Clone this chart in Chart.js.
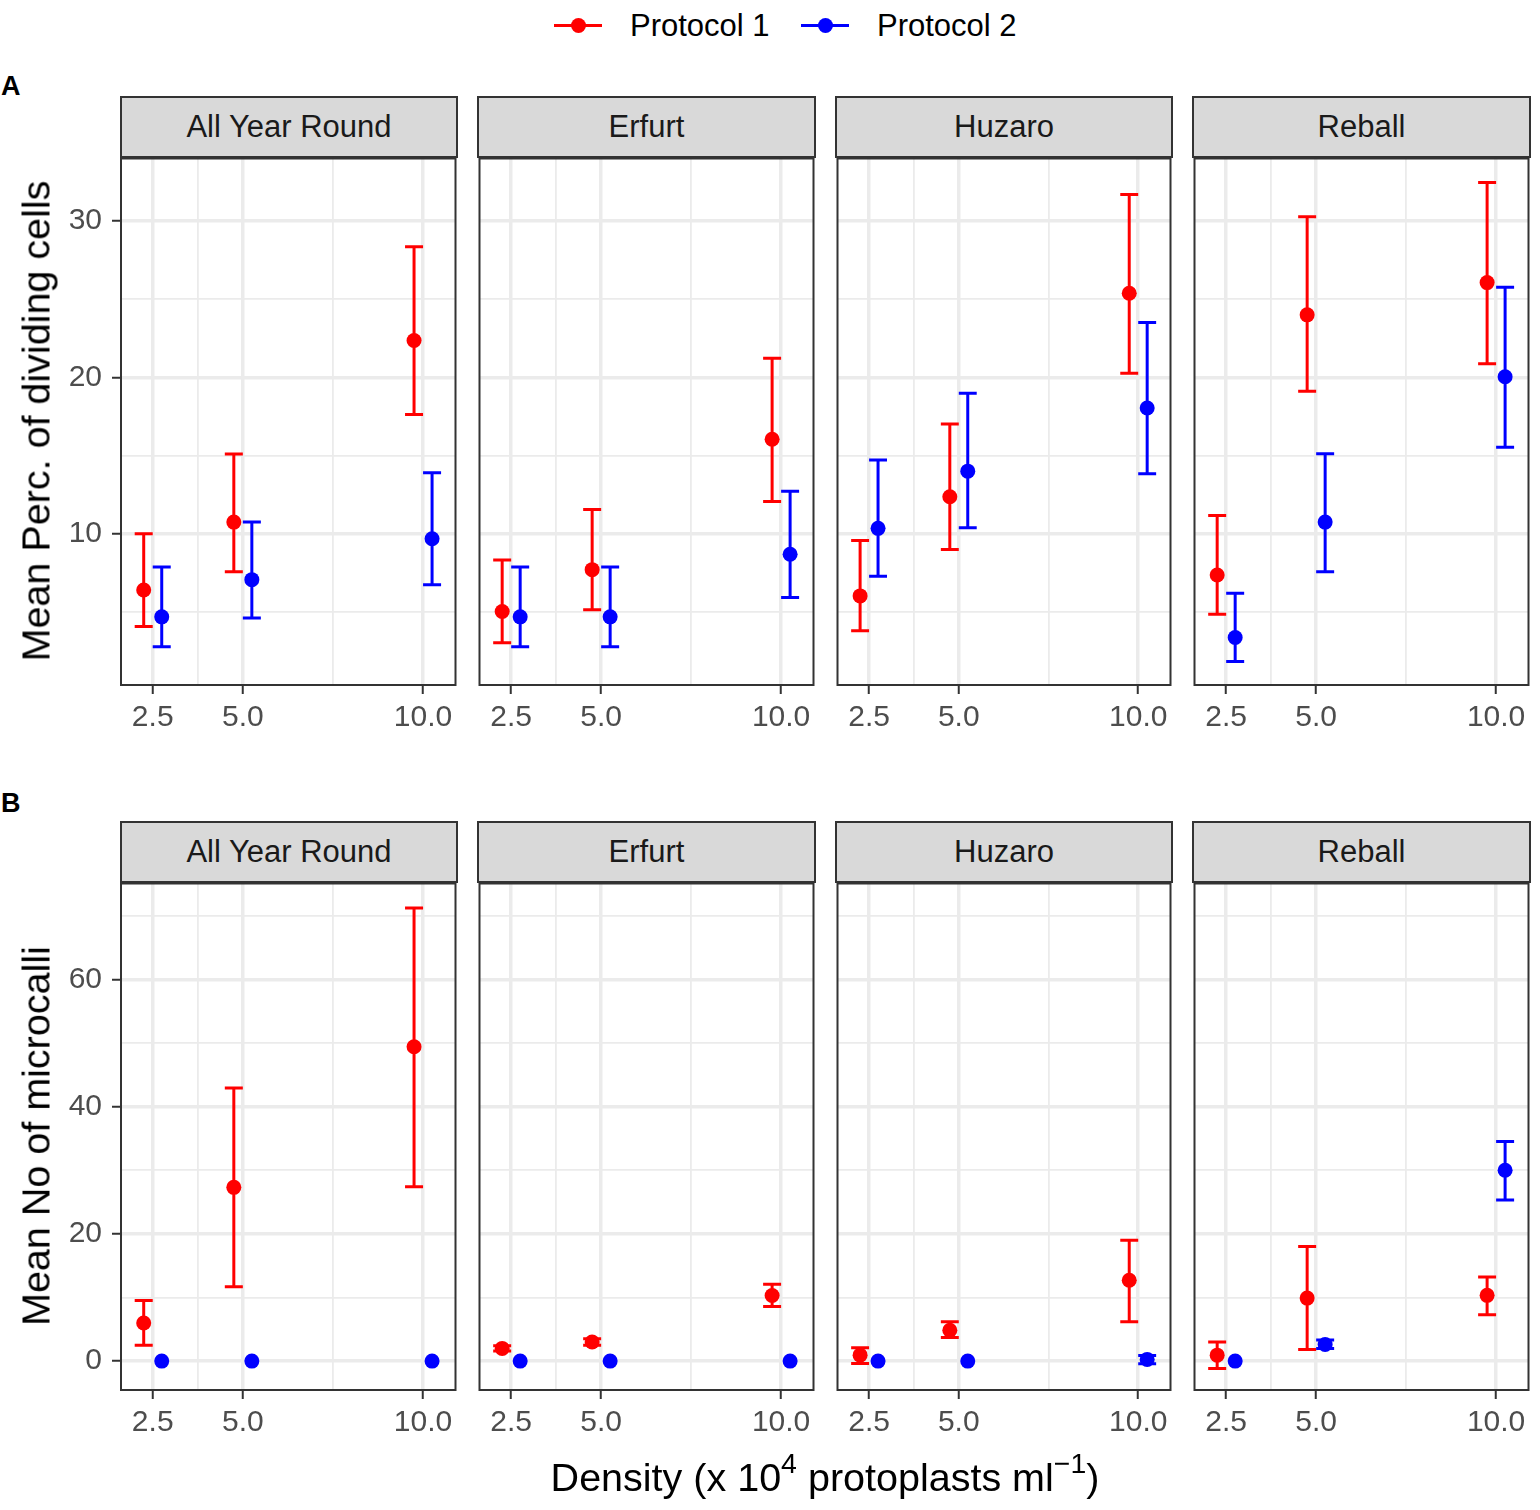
<!DOCTYPE html>
<html>
<head>
<meta charset="utf-8">
<script src="https://cdn.jsdelivr.net/npm/chart.js@4.4.1/dist/chart.umd.min.js"></script>
<style>
  body { margin: 0; background: #fff; width: 1540px; height: 1510px; position: relative; overflow: hidden;
         font-family: "Liberation Sans", Arial, sans-serif; }
  canvas { position: absolute; }
  .strip { position: absolute; box-sizing: border-box; border: 2px solid #333; background: #D9D9D9;
           color: #1A1A1A; font-size: 31px; display: flex; align-items: center; justify-content: center; }
  .tag { position: absolute; font-weight: bold; font-size: 27px; color: #000; }
  .ytitle { position: absolute; font-size: 39.5px; color: #000; white-space: nowrap;
            transform: translate(-50%, -50%) rotate(-90deg); }
  .xtitle { position: absolute; font-size: 39.5px; color: #000; white-space: nowrap; transform: translate(-50%, -50%); }
  .xtitle sup { font-size: 0.72em; vertical-align: 0; position: relative; top: -0.65em; line-height: 0; }
  .key { position: absolute; height: 3px; width: 48px; }
  .dot { position: absolute; width: 15px; height: 15px; border-radius: 50%; }
  .ltext { position: absolute; font-size: 31px; color: #000; transform: translateY(-50%); }
</style>
</head>
<body>
<div id="wrap"></div>
<script>
const cultivars = ['All Year Round', 'Erfurt', 'Huzaro', 'Reball']
const densities = [2.5, 5.0, 10.0]
const xMajor = [2.5, 5.0, 10.0]
const xMinor = [3.75, 7.5]
const yMajorA = [10, 20, 30]
const yMinorA = [5, 15, 25]
const yMajorB = [0, 20, 40, 60]
const yMinorB = [10, 30, 50, 70]

// A: mean percentage of dividing cells (per cultivar, per density)
const divP1Mean = [[6.4, 10.74, 22.36], [5.02, 7.7, 16.04], [6.02, 12.36, 25.38], [7.36, 24.0, 26.06]]
const divP1Low  = [[4.06, 7.57, 17.62], [3.02, 5.13, 12.06], [3.79, 8.98, 20.26], [4.85, 19.11, 20.87]]
const divP1High = [[10.0, 15.1, 28.36], [8.32, 11.55, 21.23], [9.57, 17.02, 31.7], [11.17, 30.28, 32.47]]
const divP2Mean = [[4.68, 7.06, 9.68], [4.68, 4.68, 8.68], [10.34, 14.0, 18.04], [3.36, 10.74, 20.04]]
const divP2Low  = [[2.77, 4.6, 6.74], [2.77, 2.77, 5.91], [7.28, 10.38, 13.83], [1.83, 7.57, 15.53]]
const divP2High = [[7.87, 10.74, 13.9], [7.87, 7.87, 12.72], [14.72, 18.98, 23.51], [6.19, 15.11, 25.77]]

// B: mean number of microcalli
const calP1Mean = [[5.98, 27.3, 49.4], [2.0, 3.0, 10.3], [0.94, 4.86, 12.7], [0.94, 9.9, 10.33]]
const calP1Low  = [[2.5, 11.7, 27.4], [1.6, 2.5, 8.6], [-0.37, 3.7, 6.2], [-1.15, 1.83, 7.3]]
const calP1High = [[9.52, 42.9, 71.2], [2.4, 3.5, 12.06], [2.1, 6.2, 19.0], [3.0, 18.0, 13.2]]
const calP2Mean = [[0, 0, 0], [0, 0, 0], [0, 0, 0.27], [0, 2.6, 30.0]]
const calP2Low  = [[0, 0, 0], [0, 0, 0], [0, 0, -0.4], [0, 2.0, 25.3]]
const calP2High = [[0, 0, 0], [0, 0, 0], [0, 0, 0.9], [0, 3.3, 34.5]]

const RED = '#FF0000'
const BLUE = '#0000FF'
const dodge = 0.25
const capHalf = 0.25

const panelLeft = [121, 478, 836, 1193]
const panelRight = [457, 815, 1172, 1530]
const rows = [
  { stripTop: 96, top: 157, bottom: 685, min: 0.32, max: 34.0, major: yMajorA, minor: yMinorA,
    p1: [divP1Mean, divP1Low, divP1High], p2: [divP2Mean, divP2Low, divP2High] },
  { stripTop: 821, top: 882, bottom: 1390, min: -4.54, max: 75.05, major: yMajorB, minor: yMinorB,
    p1: [calP1Mean, calP1Low, calP1High], p2: [calP2Mean, calP2Low, calP2High] }
]

Chart.defaults.font.family = '"Liberation Sans", Arial, sans-serif'
Chart.defaults.color = '#4D4D4D'

const errorBars = {
  id: 'errorBars',
  beforeDatasetsDraw(chart) {
    const ctx = chart.ctx, xs = chart.scales.x, ys = chart.scales.y, a = chart.chartArea
    ctx.save()
    ctx.beginPath()
    ctx.rect(a.left, a.top, a.right - a.left, a.bottom - a.top)
    ctx.clip()
    chart.data.datasets.forEach(ds => {
      ctx.strokeStyle = ds.backgroundColor
      ctx.lineWidth = 3
      ds.data.forEach((p, k) => {
        const lo = ds.low[k], hi = ds.high[k]
        if (lo === hi) return
        const x = xs.getPixelForValue(p.x)
        const x0 = xs.getPixelForValue(p.x - capHalf)
        const x1 = xs.getPixelForValue(p.x + capHalf)
        const y0 = ys.getPixelForValue(lo)
        const y1 = ys.getPixelForValue(hi)
        ctx.beginPath()
        ctx.moveTo(x, y0); ctx.lineTo(x, y1)
        ctx.moveTo(x0, y0); ctx.lineTo(x1, y0)
        ctx.moveTo(x0, y1); ctx.lineTo(x1, y1)
        ctx.stroke()
      })
    })
    ctx.restore()
  }
}

const panelBorder = {
  id: 'panelBorder',
  afterDraw(chart) {
    const ctx = chart.ctx, a = chart.chartArea
    ctx.save()
    ctx.strokeStyle = '#333333'
    ctx.lineWidth = 2
    ctx.strokeRect(a.left, a.top, a.right - a.left, a.bottom - a.top)
    ctx.restore()
  }
}

const wrap = document.getElementById('wrap')
const PAD = 6
const XH = 60

function addDiv(cls, html, style) {
  const d = document.createElement('div')
  d.className = cls
  d.innerHTML = html
  Object.assign(d.style, style)
  wrap.appendChild(d)
  return d
}

function series(block, c, off) {
  return densities.map((d, k) => ({ x: d + off, y: block[0][c][k] }))
}

rows.forEach((row, r) => {
  const yAll = row.major.concat(row.minor).sort((a, b) => a - b)
  const xAll = xMajor.concat(xMinor).sort((a, b) => a - b)
  cultivars.forEach((name, c) => {
    const w = panelRight[c] - panelLeft[c]
    const h = row.bottom - row.top
    const aw = c === 0 ? 100 : PAD

    addDiv('strip', name, {
      left: panelLeft[c] - 1 + 'px', top: row.stripTop + 'px',
      width: w + 2 + 'px', height: row.top - row.stripTop + 1 + 'px'
    })

    const cv = document.createElement('canvas')
    cv.width = aw + w + PAD
    cv.height = PAD + h + XH
    cv.style.left = panelLeft[c] - aw + 'px'
    cv.style.top = row.top - PAD + 'px'
    cv.style.width = cv.width + 'px'
    cv.style.height = cv.height + 'px'
    wrap.appendChild(cv)

    new Chart(cv, {
      type: 'scatter',
      data: {
        datasets: [
          { label: 'Protocol 1', data: series(row.p1, c, -dodge), low: row.p1[1][c], high: row.p1[2][c],
            backgroundColor: RED, borderColor: RED, pointRadius: 7.5, borderWidth: 0, pointHoverRadius: 7.5 },
          { label: 'Protocol 2', data: series(row.p2, c, dodge), low: row.p2[1][c], high: row.p2[2][c],
            backgroundColor: BLUE, borderColor: BLUE, pointRadius: 7.5, borderWidth: 0, pointHoverRadius: 7.5 }
        ]
      },
      options: {
        responsive: false,
        animation: false,
        events: [],
        layout: { padding: { top: PAD, right: PAD, left: 0, bottom: 0 } },
        plugins: { legend: { display: false }, tooltip: { enabled: false }, title: { display: false } },
        scales: {
          x: {
            type: 'linear', min: 1.62, max: 10.9,
            afterBuildTicks: s => { s.ticks = xAll.map(v => ({ value: v })) },
            afterFit: s => { s.height = XH; s.paddingLeft = 0; s.paddingRight = 0 },
            border: { display: false },
            grid: {
              color: '#EBEBEB',
              lineWidth: t => xMajor.includes(t.tick.value) ? 3.5 : 1.8,
              tickColor: t => xMajor.includes(t.tick.value) ? '#333333' : 'rgba(0,0,0,0)',
              tickLength: 9, tickWidth: 2
            },
            ticks: {
              autoSkip: false, maxRotation: 0, padding: 6, color: '#4D4D4D', font: { size: 30 },
              callback: v => xMajor.includes(v) ? v.toFixed(1) : ''
            }
          },
          y: {
            type: 'linear', min: row.min, max: row.max,
            afterBuildTicks: s => { s.ticks = yAll.map(v => ({ value: v })) },
            afterFit: s => { s.width = aw; s.paddingTop = 0; s.paddingBottom = 0 },
            border: { display: false },
            grid: {
              color: '#EBEBEB',
              lineWidth: t => row.major.includes(t.tick.value) ? 3.5 : 1.8,
              tickColor: t => row.major.includes(t.tick.value) ? '#333333' : 'rgba(0,0,0,0)',
              drawTicks: c === 0, tickLength: 9, tickWidth: 2
            },
            ticks: {
              display: c === 0, autoSkip: false, padding: 10, color: '#4D4D4D', font: { size: 30 },
              callback: v => row.major.includes(v) ? String(v) : ''
            }
          }
        }
      },
      plugins: [errorBars, panelBorder]
    })
  })
})

// panel tags and axis titles
addDiv('tag', 'A', { left: '1px', top: '71px' })
addDiv('tag', 'B', { left: '1px', top: '788px' })
addDiv('ytitle', 'Mean Perc. of dividing cells', { left: '36px', top: '421px' })
addDiv('ytitle', 'Mean No of microcalli', { left: '36px', top: '1136px' })
addDiv('xtitle', 'Density (x 10<sup>4</sup> protoplasts ml<sup>\u22121</sup>)', { left: '825px', top: '1477px' })

// legend
const legendItems = [
  { label: 'Protocol 1', color: RED, key: 554, text: 630 },
  { label: 'Protocol 2', color: BLUE, key: 801, text: 877 }
]
legendItems.forEach(it => {
  addDiv('key', '', { left: it.key + 'px', top: '24px', background: it.color })
  addDiv('dot', '', { left: it.key + 24 - 7.5 + 'px', top: 25.5 - 7.5 + 'px', background: it.color })
  addDiv('ltext', it.label, { left: it.text + 'px', top: '26px' })
})
</script>
</body>
</html>
